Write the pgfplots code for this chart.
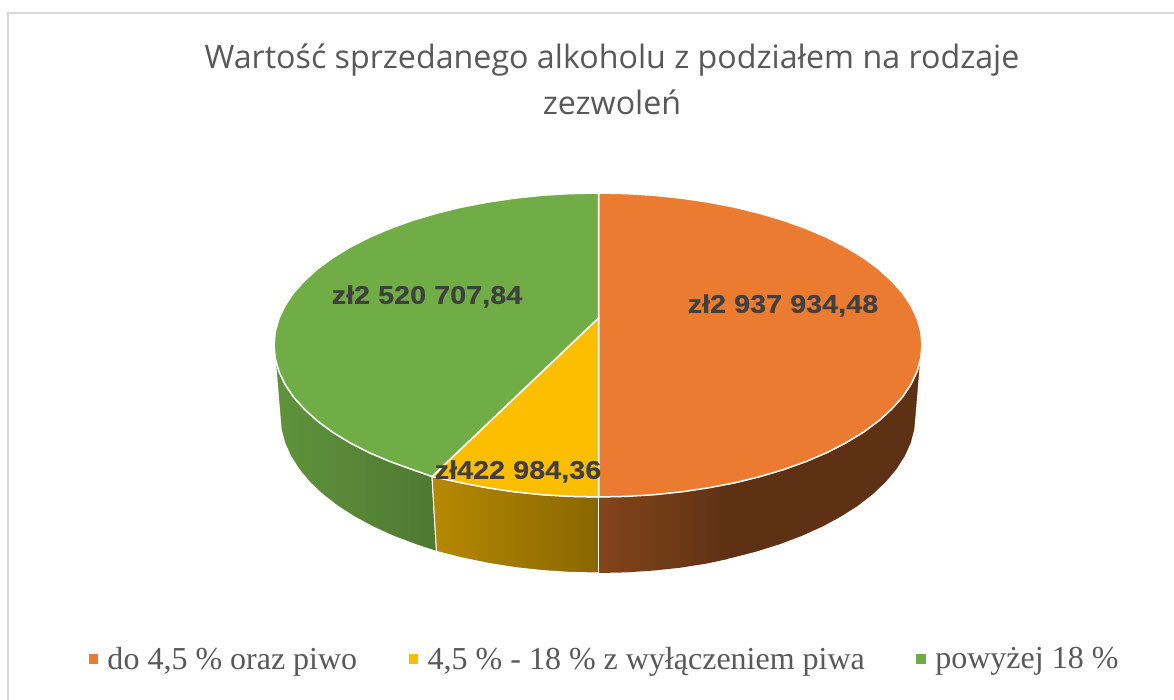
\documentclass[border=0pt]{standalone}
\usepackage{fontspec}
\setmainfont{Liberation Serif}
\newfontfamily\titlefont{Open Sans}
\newfontfamily\labelfont[FakeStretch=1.13,FakeBold=0.4]{Liberation Sans}
\usepackage{pgfplots}
\pgfplotsset{compat=1.18}

\definecolor{cOrange}{HTML}{EB7B31}
\definecolor{cYellow}{HTML}{FDBE00}
\definecolor{cGreen}{HTML}{70AD47}
\definecolor{cTxt}{HTML}{595959}
\definecolor{cLab}{HTML}{404040}

\begin{document}
\begin{tikzpicture}
\begin{axis}[
  scale only axis,
  width=1174pt,
  height=700pt,
  xmin=0, xmax=1174,
  ymin=0, ymax=700,
  y dir=reverse,
  axis lines=none,
  ticks=none,
  axis background/.style={fill=white},
  title style={at={(axis cs:612,85)},anchor=center,align=center,
    font=\titlefont\fontsize{32.2}{46}\selectfont,text=cTxt},
  title={Wartość sprzedanego alkoholu z podziałem na rodzaje\\zezwoleń},
  legend columns=3,
  legend style={at={(axis cs:87,659)},anchor=west,draw=none,fill=none,
    font=\fontsize{32}{38}\selectfont,text=cTxt,inner sep=0pt,outer sep=0pt,
    /tikz/every even column/.append style={column sep=48pt},
    /tikz/every odd column/.append style={column sep=6pt}},
  legend image code/.code={\fill[#1] (0pt,-5.5pt) rectangle (11pt,5.5pt);},
]
% frame, cropped on the right and at the bottom
\addplot[forget plot,draw=black!15,line width=2pt] coordinates {(8,700) (8,13) (1174,13)};

% walls
\addplot[forget plot,draw=white,line width=1pt,left color=cGreen!85!black,right color=cGreen!70!black] coordinates {
(275.2,358.2) (278.9,371.4) (285,384.3) (293.5,397) (304.4,409.2) (317.4,421) (332.6,432.2) (349.8,442.7) (368.9,452.5) (389.7,461.4) (412.2,469.5) (432,476.5)
(436.5,551.5) (415.6,544.6) (393.6,536.3) (373.1,527) (354.4,516.9) (337.5,506.1) (322.6,494.5) (309.8,482.4) (299.2,469.7) (290.8,456.6) (284.8,443.3) (281.2,429.7) (280,416)
} -- cycle;
\addplot[forget plot,draw=white,line width=1pt,left color=cYellow!72!black,right color=cYellow!54!black] coordinates {
(432,476.5) (461.1,482.8) (487.2,487.8) (514.1,491.8) (541.7,494.7) (569.8,496.4) (598.5,497)
(598.5,573) (570.3,572.4) (542.8,570.6) (515.7,567.7) (489.2,563.5) (463.6,558.3) (436.5,551.5)
} -- cycle;
\addplot[forget plot,draw=white,line width=1pt,fill=cOrange!40!black] coordinates {
(598.5,497) (626.2,496.4) (654.3,494.7) (681.9,491.8) (708.8,487.8) (734.9,482.8) (760,476.6) (783.8,469.5) (806.3,461.4) (827.1,452.5) (846.2,442.7) (863.4,432.2) (878.6,421) (891.6,409.2) (902.5,397) (911,384.3) (917.1,371.4) (920.8,358.2)
(916,416) (914.8,429.7) (911.2,443.3) (905.2,456.6) (896.8,469.7) (886.2,482.4) (873.4,494.5) (858.5,506.1) (841.6,516.9) (822.9,527) (802.4,536.3) (780.4,544.6) (757,552) (732.4,558.3) (706.8,563.5) (680.3,567.7) (653.2,570.6) (625.7,572.4) (598.5,573)
} -- cycle;
\addplot[forget plot,draw=none,left color=cOrange!56!black,right color=cOrange!40!black] coordinates {
(598.5,497) (626.2,496.4) (654.3,494.7) (681.9,491.8) (708.8,487.8) (728,484)
(728,559) (706.8,563.5) (680.3,567.7) (653.2,570.6) (625.7,572.4) (598.5,573)
} -- cycle;
\addplot[forget plot,draw=white,line width=1.2pt] coordinates {(598.5,497) (598.5,573)};

% top faces
\addplot[draw=white,line width=1.5pt,fill=cOrange] coordinates {
(598.5,193) (626.2,193.6) (654.3,195.3) (681.9,198.2) (708.8,202.2) (734.9,207.2) (760,213.4) (783.8,220.5) (806.3,228.6) (827.1,237.5) (846.2,247.3) (863.4,257.8) (878.6,269) (891.6,280.8) (902.5,293) (911,305.7) (917.1,318.6) (920.8,331.8) (922,345)
(920.8,358.2) (917.1,371.4) (911,384.3) (902.5,397) (891.6,409.2) (878.6,421) (863.4,432.2) (846.2,442.7) (827.1,452.5) (806.3,461.4) (783.8,469.5) (760,476.6) (734.9,482.8) (708.8,487.8) (681.9,491.8) (654.3,494.7) (626.2,496.4) (598.5,497)
} -- cycle;
\addlegendentry{do 4,5 \% oraz piwo}
\addplot[draw=white,line width=1.5pt,fill=cYellow] coordinates {
(598.5,318) (598.5,497) (569.8,496.4) (541.7,494.7) (514.1,491.8) (487.2,487.8) (461.1,482.8) (432,476.5)
} -- cycle;
\addlegendentry{4,5 \% - 18 \% z wyłączeniem piwa}
\addplot[draw=white,line width=1.5pt,fill=cGreen] coordinates {
(598.5,318) (432,476.5) (412.2,469.5) (389.7,461.4) (368.9,452.5) (349.8,442.7) (332.6,432.2) (317.4,421) (304.4,409.2) (293.5,397) (285,384.3) (278.9,371.4) (275.2,358.2) (274,345)
(275.2,331.8) (278.9,318.6) (285,305.7) (293.5,293) (304.4,280.8) (317.4,269) (332.6,257.8) (349.8,247.3) (368.9,237.5) (389.7,228.6) (412.2,220.5) (436,213.4) (461.1,207.2) (487.2,202.2) (514.1,198.2) (541.7,195.3) (569.8,193.6) (598.5,193)
} -- cycle;
\addlegendentry{powyżej 18 \%}

% data labels
\node[font=\labelfont\bfseries\fontsize{25.5}{30}\selectfont,text=cLab] at (axis cs:783,305.5) {zł2 937 934,48};
\node[font=\labelfont\bfseries\fontsize{25.5}{30}\selectfont,text=cLab] at (axis cs:427,296.5) {zł2 520 707,84};
\node[font=\labelfont\bfseries\fontsize{25.5}{30}\selectfont,text=cLab] at (axis cs:518,471.5) {zł422 984,36};
\end{axis}
\end{tikzpicture}
\end{document}
